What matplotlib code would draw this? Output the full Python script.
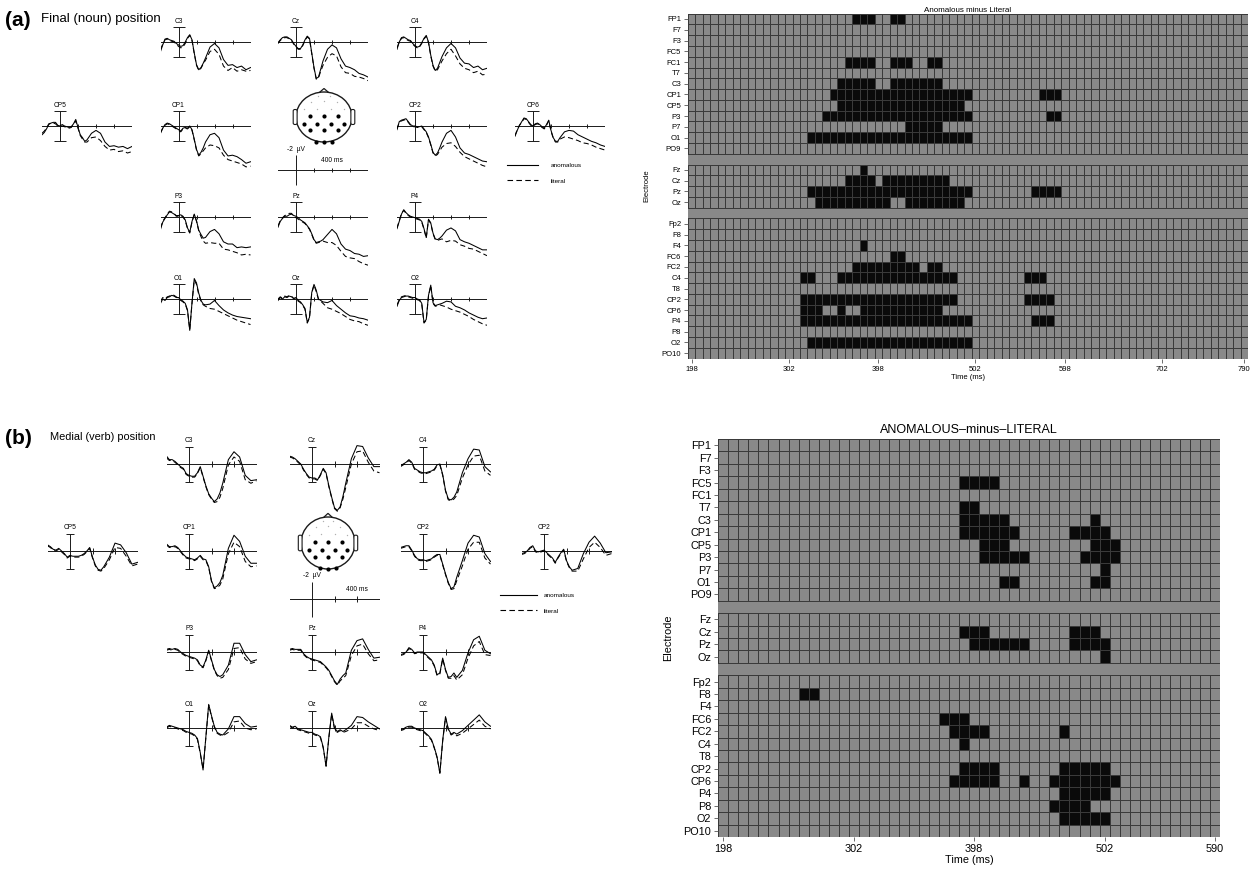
"""
Two-panel ERP figure: waveforms at 13 sites (anomalous vs literal) and
significance rasters of anomalous minus literal, for final and medial words.
"""

import numpy as np
import matplotlib.pyplot as plt
from matplotlib.colors import ListedColormap
from matplotlib.lines import Line2D
from matplotlib.patches import Ellipse, Polygon, FancyBboxPatch

W, H = 1255, 875
plt.rcParams['font.family'] = ['Liberation Sans', 'DejaVu Sans']

# ---------------- waveform data (uV, positive is drawn downward) ----------------
A_TIMES = [-200, -175, -150, -125, -100, -75, -50, -25, 0, 25, 50, 75, 100, 125, 150,
           175, 200, 225, 250, 275, 300, 350, 400, 450, 500, 550, 600, 650, 700, 750, 800]

A_C3_ANOM = [1.3, 0.4, -0.4, -0.5, -0.3, -0.2, -0.1, 0.2, 0.4, 0.6, 0.5, 0.0, -0.6, -1.0, -0.3, 1.5, 3.1, 3.8, 3.5, 2.9, 2.2, 0.7, 0.2, 0.8, 2.4, 3.2, 3.1, 3.5, 3.3, 3.8, 3.5]
A_C3_LIT = [1.0, 0.3, -0.3, -0.4, -0.2, -0.1, 0.0, 0.3, 0.6, 0.8, 0.7, 0.2, -0.5, -0.9, -0.2, 1.6, 3.2, 3.9, 3.6, 3.0, 2.5, 1.3, 1.0, 1.7, 3.3, 3.9, 3.5, 4.0, 3.8, 4.0, 3.9]
A_CZ_ANOM = [0.1, -0.3, -0.6, -0.7, -0.7, -0.5, -0.3, 0.2, 0.6, 0.9, 0.9, 0.4, -0.3, -0.8, -0.5, 1.5, 3.5, 5.0, 4.8, 3.7, 2.6, 1.0, 0.4, 0.8, 2.3, 3.3, 3.5, 3.8, 4.3, 4.5, 4.8]
A_CZ_LIT = [0.2, -0.2, -0.5, -0.6, -0.6, -0.4, -0.2, 0.3, 0.7, 1.0, 1.0, 0.5, -0.2, -0.7, -0.4, 1.6, 3.6, 5.1, 4.9, 4.0, 3.2, 2.1, 1.6, 1.9, 3.4, 4.2, 4.3, 4.7, 4.8, 5.0, 5.3]
A_C4_ANOM = [1.0, 0.0, -0.6, -0.7, -0.5, -0.3, -0.2, 0.2, 0.5, 0.7, 0.6, 0.1, -0.5, -0.9, 0.0, 1.8, 3.2, 3.9, 3.6, 2.8, 2.0, 0.8, 0.2, 0.8, 2.2, 2.9, 3.0, 3.5, 3.3, 3.8, 3.6]
A_C4_LIT = [0.8, 0.0, -0.5, -0.6, -0.4, -0.2, -0.1, 0.3, 0.6, 0.8, 0.7, 0.2, -0.4, -0.8, 0.1, 1.9, 3.3, 4.0, 3.8, 3.2, 2.6, 1.6, 1.0, 1.9, 3.0, 3.6, 3.8, 4.2, 4.0, 4.5, 4.4]
A_CP5_ANOM = [1.2, 0.9, 0.4, -0.2, -0.4, -0.5, -0.5, -0.1, 0.0, -0.2, 0.0, 0.1, 0.2, 0.1, -0.3, -0.9, 0.2, 1.2, 1.6, 2.1, 1.9, 1.0, 0.6, 1.0, 2.2, 2.8, 2.7, 2.9, 2.8, 3.1, 2.8]
A_CP5_LIT = [1.0, 0.7, 0.3, -0.3, -0.4, -0.4, -0.3, 0.0, 0.1, 0.0, 0.1, 0.2, 0.3, 0.2, -0.2, -0.7, 0.3, 1.3, 1.8, 2.2, 2.2, 1.6, 1.5, 2.0, 2.8, 3.3, 3.2, 3.5, 3.4, 3.7, 3.5]
A_CP1_ANOM = [1.0, 0.3, -0.2, -0.4, -0.3, -0.1, 0.1, 0.3, 0.5, 0.7, 0.3, 0.2, 0.3, 0.0, 0.5, 1.8, 3.2, 4.0, 3.6, 3.0, 2.2, 1.2, 1.0, 1.6, 3.3, 4.1, 4.0, 4.2, 4.6, 5.1, 4.9]
A_CP1_LIT = [0.9, 0.3, -0.1, -0.3, -0.2, 0.0, 0.2, 0.4, 0.6, 0.8, 0.4, 0.3, 0.4, 0.1, 0.6, 1.9, 3.3, 4.1, 3.8, 3.4, 3.0, 2.6, 2.7, 3.0, 4.0, 4.6, 4.8, 5.0, 5.2, 5.6, 5.5]
A_CP2_ANOM = [0.5, -0.6, -0.8, -0.9, -1.0, -0.6, -0.2, 0.0, 0.0, 0.1, 0.1, 0.0, 0.4, 0.8, 1.5, 2.5, 3.6, 4.0, 3.7, 3.0, 2.2, 1.0, 0.6, 1.5, 3.0, 3.7, 3.9, 4.2, 4.5, 4.8, 4.9]
A_CP2_LIT = [0.4, -0.5, -0.7, -0.8, -0.9, -0.5, -0.1, 0.1, 0.1, 0.2, 0.2, 0.1, 0.5, 0.9, 1.6, 2.6, 3.7, 4.1, 3.9, 3.4, 2.9, 2.4, 2.3, 2.8, 3.6, 4.2, 4.5, 4.8, 5.1, 5.4, 5.6]
A_CP6_ANOM = [1.4, 0.6, -0.1, -0.6, -1.1, -1.0, -0.6, -0.2, 0.0, -0.3, -0.4, -0.2, 0.1, 0.3, -0.2, -0.8, 0.6, 1.6, 2.1, 2.1, 1.6, 0.8, 0.6, 0.7, 1.2, 1.5, 1.8, 2.1, 2.3, 2.6, 2.8]
A_CP6_LIT = [1.3, 0.5, -0.1, -0.5, -1.0, -0.9, -0.5, -0.1, 0.1, -0.2, -0.3, -0.1, 0.2, 0.4, -0.1, -0.7, 0.7, 1.7, 2.2, 2.2, 1.8, 1.5, 1.6, 1.8, 2.0, 2.3, 2.4, 2.6, 2.9, 3.1, 3.3]
A_P3_ANOM = [1.7, 0.7, 0.2, -0.3, -0.7, -0.6, -0.4, -0.2, -0.2, -0.3, -0.1, 0.4, 1.5, 2.1, 0.6, -0.4, 0.5, 1.8, 2.4, 2.9, 2.8, 2.0, 1.7, 2.3, 3.4, 3.7, 3.7, 4.2, 4.1, 4.2, 4.1]
A_P3_LIT = [1.5, 0.6, 0.1, -0.4, -0.8, -0.7, -0.5, -0.1, -0.1, -0.2, 0.0, 0.5, 1.6, 2.2, 0.7, -0.3, 0.6, 1.9, 2.7, 3.3, 3.6, 3.5, 3.6, 3.6, 4.4, 4.5, 4.7, 4.9, 5.2, 5.1, 5.2]
A_PZ_ANOM = [1.4, 0.6, 0.2, -0.1, -0.1, -0.3, -0.4, -0.2, -0.1, 0.1, 0.4, 0.6, 0.8, 1.2, 1.6, 2.3, 3.1, 3.5, 3.4, 3.3, 3.1, 2.4, 1.7, 2.3, 3.7, 4.4, 4.6, 5.0, 5.1, 5.4, 5.3]
A_PZ_LIT = [1.2, 0.5, 0.1, -0.2, -0.3, -0.5, -0.5, -0.1, 0.1, 0.3, 0.5, 0.7, 0.9, 1.3, 1.7, 2.4, 3.2, 3.6, 3.5, 3.4, 3.3, 3.5, 3.5, 3.9, 4.7, 5.4, 5.6, 5.7, 6.1, 6.4, 6.6]
A_P4_ANOM = [1.6, 0.6, -0.4, -1.0, -0.6, -0.3, -0.1, 0.0, 0.1, 0.2, 0.3, 0.6, 1.6, 2.8, 0.3, 0.8, 2.2, 3.0, 3.1, 2.9, 2.6, 1.8, 1.5, 1.9, 3.1, 3.4, 3.6, 3.9, 4.2, 4.5, 4.5]
A_P4_LIT = [1.5, 0.5, -0.5, -0.9, -0.5, -0.2, 0.0, 0.1, 0.2, 0.3, 0.4, 0.7, 1.7, 2.9, 0.4, 0.9, 2.3, 3.1, 3.2, 3.1, 3.0, 3.4, 3.2, 3.3, 3.8, 4.0, 4.3, 4.4, 4.7, 5.0, 5.3]
A_O1_ANOM = [0.6, 0.0, 0.2, -0.2, -0.3, -0.5, -0.4, -0.2, -0.2, 0.1, 0.3, 0.6, 1.5, 4.3, 0.5, -2.8, -2.2, -0.8, 0.2, 0.7, 0.8, 0.7, 0.2, 0.9, 1.5, 1.9, 2.2, 2.4, 2.5, 2.6, 2.7]
A_O1_LIT = [0.3, -0.2, 0.0, -0.3, -0.4, -0.6, -0.5, -0.3, -0.1, 0.2, 0.4, 0.7, 1.6, 4.2, 0.6, -2.6, -2.0, -0.6, 0.3, 0.8, 1.0, 1.3, 1.4, 1.7, 2.0, 2.3, 2.6, 2.9, 3.1, 3.3, 3.5]
A_OZ_ANOM = [0.2, -0.2, 0.0, -0.3, -0.2, -0.4, -0.3, -0.1, -0.2, 0.2, 0.4, 0.8, 1.3, 3.2, 2.5, -0.9, -2.0, -1.2, 0.0, 0.2, 0.4, 0.5, 0.2, 0.9, 1.4, 1.9, 2.3, 2.4, 2.6, 2.7, 2.9]
A_OZ_LIT = [0.0, -0.3, -0.1, -0.4, -0.3, -0.5, -0.4, 0.0, -0.1, 0.3, 0.5, 0.9, 1.4, 3.3, 2.6, -0.8, -1.9, -1.0, 0.1, 0.3, 0.6, 1.2, 1.4, 1.7, 2.0, 2.4, 2.8, 3.0, 3.1, 3.4, 3.6]
A_O2_ANOM = [1.0, 0.2, -0.2, -0.3, -0.4, -0.4, -0.3, -0.2, -0.2, 0.0, 0.1, 0.6, 3.2, 2.8, -0.5, -1.9, 0.5, 0.9, 0.8, 0.7, 0.6, 0.3, 0.4, 1.0, 1.2, 1.5, 1.9, 2.2, 2.5, 2.7, 2.6]
A_O2_LIT = [0.8, 0.1, -0.3, -0.4, -0.5, -0.3, -0.2, -0.1, -0.1, 0.1, 0.2, 0.7, 3.3, 2.9, -0.4, -1.8, 0.6, 1.0, 0.9, 0.8, 0.9, 1.1, 1.4, 1.6, 1.8, 2.1, 2.4, 2.8, 3.1, 3.4, 3.6]

B_TIMES = [-200, -175, -150, -125, -100, -75, -50, -25, 0, 25, 50, 75, 100, 125, 150,
           175, 200, 225, 250, 275, 300, 350, 400, 450, 500, 550, 600]

B_C3_ANOM = [-0.9, -0.5, -0.5, -0.3, 0.0, 0.3, 0.5, 1.1, 1.3, 1.4, 1.4, 1.0, 0.3, 1.4, 2.5, 3.4, 3.9, 4.3, 4.0, 3.3, 2.2, -0.5, -1.4, -0.8, 1.3, 1.9, 1.8]
B_C3_LIT = [-0.7, -0.4, -0.4, -0.2, 0.1, 0.4, 0.6, 1.2, 1.4, 1.5, 1.5, 1.1, 0.4, 1.5, 2.6, 3.5, 4.0, 4.4, 4.3, 3.8, 2.8, 0.1, -0.8, -0.3, 1.8, 2.2, 1.9]
B_CZ_ANOM = [-0.9, -0.8, -0.6, -0.3, 0.0, 0.6, 1.1, 1.5, 1.6, 1.6, 1.8, 1.2, 0.5, 1.0, 2.5, 3.8, 5.0, 5.3, 4.9, 3.7, 2.2, -0.6, -2.1, -2.0, -0.7, 0.3, 0.3]
B_CZ_LIT = [-0.8, -0.7, -0.5, -0.2, 0.1, 0.7, 1.2, 1.6, 1.7, 1.7, 1.9, 1.3, 0.6, 1.1, 2.6, 3.9, 5.1, 5.4, 5.0, 4.0, 2.7, 0.0, -1.4, -1.5, -0.2, 0.8, 1.0]
B_C4_ANOM = [0.2, 0.0, -0.2, -0.5, -0.2, 0.5, 0.7, 0.9, 1.0, 1.0, 0.9, 0.8, 0.6, 0.1, 0.0, 1.2, 3.0, 4.0, 4.1, 3.8, 3.2, 1.0, -0.6, -1.7, -1.6, 0.3, 0.9]
B_C4_LIT = [0.3, 0.1, -0.1, -0.4, -0.1, 0.6, 0.8, 1.0, 1.1, 1.1, 1.0, 0.9, 0.7, 0.2, 0.1, 1.3, 3.1, 4.1, 4.2, 4.0, 3.6, 1.6, 0.1, -0.9, -1.0, 0.8, 1.3]
B_CP5_ANOM = [-0.7, -0.5, -0.2, -0.1, -0.3, 0.0, 0.3, 0.7, 0.5, 0.6, 0.6, 0.6, 0.5, 0.3, 0.0, -0.4, 0.7, 1.6, 2.1, 2.2, 1.8, 0.7, -0.9, -0.7, 0.2, 1.5, 1.3]
B_CP5_LIT = [-0.6, -0.4, -0.1, 0.0, -0.2, 0.1, 0.4, 0.8, 0.6, 0.7, 0.7, 0.7, 0.6, 0.4, 0.1, -0.3, 0.8, 1.7, 2.2, 2.3, 2.0, 1.0, -0.4, -0.3, 0.6, 1.7, 1.5]
B_CP1_ANOM = [-0.8, -0.5, -0.5, -0.6, -0.4, 0.0, 0.4, 0.7, 0.8, 0.9, 1.0, 0.8, 0.5, 0.9, 1.0, 1.8, 3.4, 4.2, 4.0, 3.6, 2.8, -0.3, -1.8, -1.1, 0.6, 1.4, 1.4]
B_CP1_LIT = [-0.7, -0.4, -0.4, -0.5, -0.3, 0.1, 0.5, 0.8, 0.9, 1.0, 1.1, 0.9, 0.6, 1.0, 1.1, 1.9, 3.5, 4.3, 4.2, 3.9, 3.2, 0.3, -1.0, -0.5, 1.2, 1.8, 1.7]
B_CP2_ANOM = [-0.4, -0.5, -0.6, -0.6, -0.1, 0.5, 0.9, 1.0, 1.0, 1.1, 1.0, 0.9, 0.6, 0.4, 0.4, 1.5, 2.6, 3.6, 4.3, 4.1, 3.0, 1.1, -0.9, -1.8, -1.6, 0.3, 1.2]
B_CP2_LIT = [-0.3, -0.4, -0.5, -0.5, 0.0, 0.6, 1.0, 1.1, 1.1, 1.2, 1.1, 1.0, 0.7, 0.5, 0.5, 1.6, 2.7, 3.7, 4.4, 4.3, 3.4, 1.7, -0.2, -1.0, -1.0, 0.8, 1.5]
B_CP2R_ANOM = [0.3, 0.2, 0.0, -0.4, -0.6, 0.0, 0.1, 0.0, -0.1, 0.2, 0.5, 0.8, 1.3, 0.7, 0.2, -0.2, 1.1, 1.8, 2.2, 2.1, 2.0, 0.3, -1.0, -1.7, -0.9, 0.2, 0.1]
B_CP2R_LIT = [0.4, 0.3, 0.1, -0.3, -0.5, 0.1, 0.2, 0.1, 0.0, 0.3, 0.6, 0.9, 1.4, 0.8, 0.3, -0.1, 1.2, 1.9, 2.3, 2.3, 2.3, 0.9, -0.4, -1.0, -0.4, 0.5, 0.3]
B_P3_ANOM = [-0.3, -0.4, -0.3, -0.4, -0.3, 0.0, 0.2, 0.4, 0.5, 0.6, 0.7, 0.9, 1.5, 1.7, 0.9, -0.2, 0.9, 2.0, 2.6, 2.8, 2.6, 1.5, -1.0, -1.0, 0.3, 1.1, 0.9]
B_P3_LIT = [-0.2, -0.3, -0.2, -0.3, -0.2, 0.1, 0.3, 0.5, 0.6, 0.7, 0.8, 1.0, 1.6, 1.8, 1.0, -0.1, 1.0, 2.1, 2.7, 3.0, 2.9, 2.0, -0.4, -0.5, 0.8, 1.3, 1.1]
B_PZ_ANOM = [-0.3, -0.4, -0.3, -0.3, -0.3, 0.2, 0.5, 0.7, 0.8, 0.9, 1.0, 1.1, 1.4, 1.7, 2.1, 2.7, 3.3, 3.7, 3.1, 2.7, 2.4, -0.2, -1.3, -1.5, -0.3, 0.7, 0.6]
B_PZ_LIT = [-0.2, -0.3, -0.2, -0.2, -0.2, 0.3, 0.6, 0.8, 0.9, 1.0, 1.1, 1.2, 1.5, 1.8, 2.2, 2.8, 3.4, 3.8, 3.3, 3.0, 2.7, 0.4, -0.7, -0.9, 0.2, 1.0, 0.9]
B_P4_ANOM = [0.3, 0.2, 0.0, -0.5, -0.3, 0.1, 0.0, 0.0, 0.0, 0.3, 0.6, 0.9, 1.5, 2.6, 2.4, 0.7, 2.0, 2.9, 2.8, 2.4, 2.9, 2.1, 0.1, -1.4, -1.8, -0.2, 0.2]
B_P4_LIT = [0.4, 0.3, 0.1, -0.4, -0.2, 0.2, 0.1, 0.1, 0.1, 0.4, 0.7, 1.0, 1.6, 2.7, 2.5, 0.8, 2.1, 3.0, 3.0, 2.7, 3.2, 2.6, 0.7, -0.7, -1.2, 0.3, 0.4]
B_O1_ANOM = [-0.1, -0.3, -0.2, -0.1, 0.0, 0.1, 0.2, 0.4, 0.5, 0.6, 0.8, 1.2, 2.8, 4.8, 1.0, -2.7, -1.4, -0.2, 0.5, 0.7, 0.8, 0.1, -1.3, -1.3, -0.5, -0.1, -0.2]
B_O1_LIT = [0.0, -0.2, -0.1, 0.0, 0.1, 0.2, 0.3, 0.5, 0.6, 0.7, 0.9, 1.3, 2.9, 4.7, 1.1, -2.6, -1.3, -0.1, 0.6, 0.8, 0.9, 0.5, -0.7, -0.8, 0.0, 0.2, 0.1]
B_OZ_ANOM = [-0.3, -0.1, -0.2, 0.1, 0.2, 0.3, 0.4, 0.5, 0.5, 0.7, 0.8, 1.0, 2.2, 4.4, 1.0, -1.7, 0.0, 0.4, 0.2, 0.4, 0.2, -0.3, -1.3, -1.2, -0.7, -0.3, 0.1]
B_OZ_LIT = [-0.2, 0.0, -0.1, 0.2, 0.3, 0.4, 0.5, 0.6, 0.6, 0.8, 0.9, 1.1, 2.3, 4.3, 1.1, -1.6, 0.1, 0.5, 0.3, 0.5, 0.4, 0.1, -0.6, -0.6, -0.2, 0.1, 0.3]
B_O2_ANOM = [0.2, 0.1, -0.1, -0.2, -0.2, 0.0, 0.1, 0.2, 0.3, 0.6, 0.9, 1.3, 2.2, 3.3, 5.2, 1.4, -1.3, 0.1, 0.7, 0.5, 0.7, 0.3, -0.3, -0.9, -1.5, -0.7, -0.2]
B_O2_LIT = [0.3, 0.2, 0.0, -0.1, -0.1, 0.1, 0.2, 0.3, 0.4, 0.7, 1.0, 1.4, 2.3, 3.4, 5.1, 1.5, -1.2, 0.2, 0.8, 0.6, 0.9, 0.6, 0.1, -0.4, -0.9, -0.2, 0.1]

# electrode dots on the head sketch (unit-circle coordinates)
HEAD_SIG_X = [-0.5, 0.0, 0.5, -0.7, -0.24, 0.25, 0.72, -0.5, 0.0, 0.5, -0.28, 0.0, 0.28]
HEAD_SIG_Y = [0.03, 0.03, 0.03, -0.28, -0.28, -0.28, -0.28, -0.52, -0.52, -0.52, -0.98, -1.0, -0.98]
HEAD_OTHER_X = [-0.45, 0.0, 0.45, -0.7, -0.25, 0.25, 0.7, -0.2, 0.2]
HEAD_OTHER_Y = [0.6, 0.65, 0.6, 0.32, 0.34, 0.34, 0.32, 0.85, 0.85]

# ---------------- raster data: significant windows (ms, cell centres) ----------------
ELEC_LEFT = ["FP1", "F7", "F3", "FC5", "FC1", "T7", "C3", "CP1", "CP5", "P3", "P7", "O1", "PO9"]
ELEC_MID = ["Fz", "Cz", "Pz", "Oz"]
ELEC_RIGHT = ["Fp2", "F8", "F4", "FC6", "FC2", "C4", "T8", "CP2", "CP6", "P4", "P8", "O2", "PO10"]

A_SIG_LEFT = [[(374, 390), (414, 422)], [], [], [], [(366, 390), (414, 430), (454, 462)], [],
              [(358, 390), (414, 462)], [(350, 494), (574, 590)], [(358, 486)],
              [(342, 494), (582, 590)], [(430, 462)], [(326, 494)], []]
A_SIG_MID = [[(382, 382)], [(366, 390), (406, 470)], [(326, 494), (566, 590)],
             [(334, 406), (430, 486)]]
A_SIG_RIGHT = [[], [], [(382, 382)], [(414, 422)], [(374, 438), (454, 462)],
               [(318, 326), (358, 478), (558, 574)], [], [(318, 478), (558, 582)],
               [(318, 334), (358, 358), (382, 462)], [(318, 494), (566, 582)], [],
               [(326, 494)], []]

B_SIG_LEFT = [[], [], [], [(390, 414)], [], [(390, 398)], [(390, 422), (494, 494)],
              [(390, 430), (478, 502)], [(406, 422), (494, 510)], [(406, 438), (486, 510)],
              [(502, 502)], [(422, 430), (494, 502)], []]
B_SIG_MID = [[], [(390, 406), (478, 494)], [(398, 438), (478, 502)], [(502, 502)]]
B_SIG_RIGHT = [[], [(262, 270)], [], [(374, 390)], [(382, 406), (470, 470)], [(390, 390)], [],
               [(390, 414), (470, 502)], [(382, 414), (438, 438), (462, 510)], [(470, 502)],
               [(462, 486)], [(470, 502)], []]

A_XTICKS = [198, 302, 398, 502, 598, 702, 790]
B_XTICKS = [198, 302, 398, 502, 590]

INK = '#1a1a1a'
CELL = '#898989'
GRID = '#3a3a3a'


def px_axes(fig, x0, y0, w, h):
    """Axes placed in pixel units measured from the top-left corner."""
    return fig.add_axes([x0 / W, 1 - (y0 + h) / H, w / W, h / H])


def draw_erp(fig, name, times, anom, lit, zx, by, px_ms, px_uv, t_end, ticks, cap):
    up, down = -5.0, 7.5
    ax = px_axes(fig, zx - 200 * px_ms, by + up * px_uv,
                 (t_end + 200) * px_ms, (down - up) * px_uv)
    ax.set_xlim(-200, t_end)
    ax.set_ylim(down, up)
    ax.axis('off')
    ax.axhline(0, color=INK, lw=0.7)
    ax.vlines(ticks, -0.3, 0.3, color=INK, lw=0.7)
    ax.errorbar([0], [0], yerr=2, fmt='none', ecolor=INK, elinewidth=0.7,
                capsize=cap, capthick=0.7)
    ax.plot(times, anom, color='black', lw=0.75)
    ax.plot(times, lit, color='black', lw=0.75, ls=(0, (5, 3)))
    ax.annotate(name, (0, -2), xytext=(0, 1.8), textcoords='offset points',
                ha='center', va='bottom', fontsize=4.8)


def draw_scale(fig, zx, by, px_ms, px_uv, t_end, ticks):
    up, down = -4.0, 3.0
    ax = px_axes(fig, zx - 200 * px_ms, by + up * px_uv,
                 (t_end + 200) * px_ms, (down - up) * px_uv)
    ax.set_xlim(-200, t_end)
    ax.set_ylim(down, up)
    ax.axis('off')
    ax.axhline(0, color=INK, lw=0.7)
    ax.vlines(ticks, -0.3, 0.3, color=INK, lw=0.7)
    ax.vlines([0], -2, 2, color=INK, lw=0.7)
    ax.annotate('-2  \u00b5V', (0, -2), xytext=(0, 1.5), textcoords='offset points',
                ha='center', va='bottom', fontsize=4.8)
    ax.annotate('400 ms', (400, 0), xytext=(0, 4.5), textcoords='offset points',
                ha='center', va='bottom', fontsize=4.8)


def draw_head(fig, cx, cy, rx, ry):
    ax = px_axes(fig, cx - 1.4 * rx, cy - 1.4 * ry, 2.8 * rx, 2.8 * ry)
    ax.set_xlim(-1.4, 1.4)
    ax.set_ylim(-1.4, 1.4)
    ax.axis('off')
    ax.add_patch(Ellipse((0, 0), 2, 2, fill=False, ec=INK, lw=1.0))
    ax.add_patch(Polygon([(-0.16, 0.985), (0, 1.14), (0.16, 0.985)], closed=False,
                         fill=False, ec=INK, lw=0.9))
    for side in (-1, 1):
        ax.add_patch(FancyBboxPatch((side * 1.03 - 0.07, -0.3), 0.14, 0.6,
                                    boxstyle='round,pad=0,rounding_size=0.06',
                                    fc='white', ec=INK, lw=0.8))
    ax.scatter(HEAD_OTHER_X, HEAD_OTHER_Y, s=1.0, c='#b0b0b0', lw=0)
    ax.scatter(HEAD_SIG_X, HEAD_SIG_Y, s=9, c='black', lw=0)


def draw_legend(fig, x, y, hl, pad):
    handles = [Line2D([], [], color='black', lw=0.8),
               Line2D([], [], color='black', lw=0.8, ls=(0, (5, 3)))]
    fig.legend(handles, ['anomalous', 'literal'], loc='upper left',
               bbox_to_anchor=(x / W, 1 - y / H), frameon=False, fontsize=4.6,
               handlelength=hl, handletextpad=pad, labelspacing=1.5,
               borderpad=0, borderaxespad=0)


def draw_raster(fig, rect, groups, t_last, xticks, title, fs, title_fs, title_pad, ylab_x):
    ax = px_axes(fig, *rect)
    col_t = np.arange(198, t_last + 1, 8)
    xedges = np.append(col_t - 4, col_t[-1] + 4)
    cmap = ListedColormap([CELL, '#0a0a0a'])
    row = 0
    names, centres = [], []
    for gi, (elecs, sigs) in enumerate(groups):
        if gi:
            row += 1  # blank band between electrode groups
        cells = np.zeros((len(elecs), len(col_t)))
        for i, spans in enumerate(sigs):
            for a, b in spans:
                cells[i, (col_t >= a) & (col_t <= b)] = 1
        yedges = row + np.arange(len(elecs) + 1)
        ax.pcolormesh(xedges, yedges, cells, cmap=cmap, vmin=0, vmax=1,
                      edgecolors=GRID, linewidth=0.5)
        names += elecs
        centres += list(row + 0.5 + np.arange(len(elecs)))
        row += len(elecs)
    ax.set_xlim(xedges[0], xedges[-1])
    ax.set_ylim(row, 0)
    ax.set_facecolor(CELL)
    for sp in ax.spines.values():
        sp.set_visible(False)
    ax.set_yticks(centres)
    ax.set_yticklabels(names, fontsize=fs)
    ax.set_xticks(xticks)
    ax.set_xticklabels([str(t) for t in xticks], fontsize=fs)
    ax.tick_params(axis='both', length=3, width=0.6, color='#555555', pad=2)
    ax.set_title(title, fontsize=title_fs, pad=title_pad)
    ax.set_ylabel('Electrode', fontsize=fs)
    ax.yaxis.set_label_coords(ylab_x, 0.5)
    ax.set_xlabel('Time (ms)', fontsize=fs, labelpad=1)
    return ax


fig = plt.figure(figsize=(W / 100, H / 100), dpi=100)

# ---------------- panel (a): final noun ----------------
A_MS, A_UV = 0.090, 7.3
fig.text(5 / W, 1 - 20 / H, '(a)', fontsize=15, fontweight='bold', va='center')
fig.text(41 / W, 1 - 19 / H, 'Final (noun) position', fontsize=9.5, va='center')

a_waves = [
    ("C3", A_C3_ANOM, A_C3_LIT, 178.5, 42), ("Cz", A_CZ_ANOM, A_CZ_LIT, 296, 42),
    ("C4", A_C4_ANOM, A_C4_LIT, 415, 42), ("CP5", A_CP5_ANOM, A_CP5_LIT, 60, 126),
    ("CP1", A_CP1_ANOM, A_CP1_LIT, 178.5, 126), ("CP2", A_CP2_ANOM, A_CP2_LIT, 415, 126),
    ("CP6", A_CP6_ANOM, A_CP6_LIT, 533, 126), ("P3", A_P3_ANOM, A_P3_LIT, 178.5, 217),
    ("Pz", A_PZ_ANOM, A_PZ_LIT, 296, 217), ("P4", A_P4_ANOM, A_P4_LIT, 415, 217),
    ("O1", A_O1_ANOM, A_O1_LIT, 178.5, 299), ("Oz", A_OZ_ANOM, A_OZ_LIT, 296, 299),
    ("O2", A_O2_ANOM, A_O2_LIT, 415, 299),
]
for name, anom, lit, zx, by in a_waves:
    draw_erp(fig, name, A_TIMES, anom, lit, zx, by, A_MS, A_UV, 800, [200, 400, 600], 4.2)
draw_scale(fig, 296, 170, A_MS, A_UV, 800, [200, 400, 600])
draw_head(fig, 324, 117, 28, 25)
draw_legend(fig, 507, 163, 4.8, 2.0)

draw_raster(fig, (688, 13.6, 560, 345),
            [(ELEC_LEFT, A_SIG_LEFT), (ELEC_MID, A_SIG_MID), (ELEC_RIGHT, A_SIG_RIGHT)],
            790, A_XTICKS, 'Anomalous minus Literal', 5.5, 5.8, 1.5, -0.068)

# ---------------- panel (b): medial verb ----------------
B_MS, B_UV = 0.1125, 8.75
fig.text(5 / W, 1 - 439 / H, '(b)', fontsize=15, fontweight='bold', va='center')
fig.text(50 / W, 1 - 437 / H, 'Medial (verb) position', fontsize=7.9, va='center')

b_waves = [
    ("C3", B_C3_ANOM, B_C3_LIT, 189, 464), ("Cz", B_CZ_ANOM, B_CZ_LIT, 312, 464),
    ("C4", B_C4_ANOM, B_C4_LIT, 423, 464), ("CP5", B_CP5_ANOM, B_CP5_LIT, 70, 551),
    ("CP1", B_CP1_ANOM, B_CP1_LIT, 189, 551), ("CP2", B_CP2_ANOM, B_CP2_LIT, 423, 551),
    ("CP2", B_CP2R_ANOM, B_CP2R_LIT, 544, 551), ("P3", B_P3_ANOM, B_P3_LIT, 189, 652),
    ("Pz", B_PZ_ANOM, B_PZ_LIT, 312, 652), ("P4", B_P4_ANOM, B_P4_LIT, 423, 652),
    ("O1", B_O1_ANOM, B_O1_LIT, 189, 728), ("Oz", B_OZ_ANOM, B_OZ_LIT, 312, 728),
    ("O2", B_O2_ANOM, B_O2_LIT, 423, 728),
]
for name, anom, lit, zx, by in b_waves:
    draw_erp(fig, name, B_TIMES, anom, lit, zx, by, B_MS, B_UV, 600, [200, 400], 3.0)
draw_scale(fig, 312, 599, B_MS, B_UV, 600, [200, 400])
draw_head(fig, 328, 543, 27, 26)
draw_legend(fig, 500, 593, 5.8, 1.1)

draw_raster(fig, (718.3, 439, 501.7, 398),
            [(ELEC_LEFT, B_SIG_LEFT), (ELEC_MID, B_SIG_MID), (ELEC_RIGHT, B_SIG_RIGHT)],
            590, B_XTICKS, 'ANOMALOUS\u2013minus\u2013LITERAL', 7.8, 9, 4, -0.09)

fig.savefig('out.png', dpi=100)
